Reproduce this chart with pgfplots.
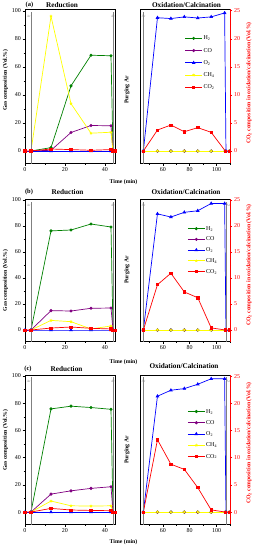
\documentclass[border=0pt]{standalone}
\usepackage{fontspec}
\setmainfont{Liberation Serif}
\usepackage{pgfplots}
\pgfplotsset{compat=1.18}

\definecolor{cH}{RGB}{0,128,0}
\definecolor{cCO}{RGB}{128,0,128}
\definecolor{cO}{RGB}{0,0,255}
\definecolor{cCH}{RGB}{255,255,0}
\definecolor{cCOt}{RGB}{255,0,0}

\pgfplotsset{
 base/.style={scale only axis, width=180pt, tick align=outside,
   axis line style={line width=1.2pt},
   tick style={line width=1pt, black},
   major tick length=4.5pt, minor tick length=2.5pt,
   /pgf/number format/assume math mode=true,
   tick label style={font=\fontsize{12}{14}\selectfont},
   clip=false},
 lax/.style={base, xmin=0, xmax=45, xtick={0,20,40}, minor xtick={10,30},
   ytick={0,20,...,100}, minor ytick={10,30,...,90},
   xtick pos=left, ytick pos=left},
 rax/.style={base, xmin=43, xmax=110, xtick={60,80,100}, minor xtick={50,70,90,110},
   ytick={0,5,...,25}, minor ytick={2.5,7.5,...,22.5},
   xtick pos=left, ytick pos=right, yticklabel pos=right,
   y tick style={red, line width=1pt}, yticklabel style={red},
   legend cell align=left,
   legend image code/.code={\draw[mark repeat=2,mark phase=2,##1] plot coordinates {(0pt,0pt) (17pt,0pt) (34pt,0pt)};}},
 sH/.style={cH, line width=1.4pt, mark=*, mark size=2.4pt},
 sCO/.style={cCO, line width=1.4pt, mark=*, mark size=2.4pt},
 sO/.style={cO, line width=1.4pt, mark=triangle*, mark size=2.9pt},
 sCH/.style={cCH, line width=1.4pt, mark=star, mark size=2.9pt},
 sCOt/.style={cCOt, line width=1.4pt, mark=square*, mark size=2.3pt},
}
\newcommand{\arline}[2]{% x position, anchor
 \draw[gray, densely dotted, line width=0.8pt] ({axis cs:#1,0}|-{rel axis cs:0,0}) -- ({axis cs:#1,0}|-{rel axis cs:0,0.985});
 \node[gray, font=\fontsize{7}{8}\selectfont, anchor=#2, inner sep=0.5pt] at ({axis cs:#1,0}|-{rel axis cs:0,0.955}) {Ar};}
\newcommand{\redspine}{\draw[red, line width=1.2pt] (rel axis cs:1,0) -- (rel axis cs:1,1);}
\newcommand{\lab}{\bfseries\fontsize{11.5}{13}\selectfont}
\newcommand{\plab}{\bfseries\fontsize{13}{15}\selectfont}
\newcommand{\ttl}{\bfseries\fontsize{14.5}{16}\selectfont}
\newcommand{\lgd}{\fontsize{12}{14}\selectfont}

\begin{document}
\begin{tikzpicture}
\useasboundingbox (0pt,0pt) rectangle (510pt,-1100pt);

% ================= Row (a) =================
\begin{axis}[lax, at={(50pt,-326.6pt)}, anchor=south west, height=308pt, ymin=-8.8, ymax=101.2]
\addplot[sH] coordinates {(3,0)(13,2.4)(23,46.5)(33,68.4)(43,68)(44,0)};
\addplot[sCO] coordinates {(3,0)(13,0.5)(23,13.2)(33,18.2)(43,18)(44,0)};
\addplot[sO] coordinates {(0,0)(3,0)(13,0)(23,0)(33,0)(43,0)(44,0)};
\addplot[sCH] coordinates {(3,0)(13,96.2)(23,33.8)(33,12.7)(43,13.4)(44,0)};
\addplot[sCOt] coordinates {(0,0)(3,0)(13,1.4)(23,1)(33,0.5)(43,1)(44,0)(45,0)};
\arline{3}{east}
\arline{44}{center}
\end{axis}
\begin{axis}[rax, at={(280pt,-326.6pt)}, anchor=south west, height=308pt, ymin=-2.19, ymax=25.25,
  legend style={at={(0.48,0.84)}, anchor=north west, draw=none, fill=none, font=\lgd, row sep=11pt}]
\addplot[sH] coordinates {(45.5,0)(56,0)(66,0)(76,0)(86,0)(96,0)(106.5,0)(109.5,0)};
\addplot[sCO] coordinates {(45.5,0)(56,0)(66,0)(76,0)(86,0)(96,0)(106.5,0)(109.5,0)};
\addplot[sO] coordinates {(45.5,0)(56,23.75)(66,23.6)(76,23.9)(86,23.7)(96,23.9)(106,24.6)(107,0)};
\addplot[sCH] coordinates {(45.5,0)(56,0)(66,0)(76,0)(86,0)(96,0)(106.5,0)(109.5,0)};
\addplot[sCOt] coordinates {(45.5,0)(56,3.74)(66,4.63)(76,3.44)(86,4.16)(96,3.33)(106.5,0)(109.5,0)};
\legend{H\textsubscript{2},CO,O\textsubscript{2},CH\textsubscript{4},CO\textsubscript{2}}
\arline{45.5}{center}
\redspine
\end{axis}
\node[font=\plab] at (59pt,-10pt) {(a)};
\node[font=\ttl] at (124pt,-10pt) {Reduction};
\node[font=\ttl] at (373pt,-10pt) {Oxidation/Calcination};
\node[font=\lab, rotate=90] at (11pt,-160pt) {Gas composition (Vol.\%)};
\node[font=\lab, rotate=90] at (254pt,-180pt) {Purging Ar};
\node[font=\lab, rotate=90, red] at (498pt,-166pt) {CO\textsubscript{2} composition in oxidation/calcination (Vol.\%)};
\node[font=\lab] at (247pt,-364pt) {Time (min)};

% ================= Row (b) =================
\begin{axis}[lax, at={(50pt,-683.4pt)}, anchor=south west, height=284.8pt, ymin=-9, ymax=100.5]
\addplot[sH] coordinates {(3,0)(13,76.2)(23,76.9)(33,81.5)(43,79.2)(44,0)};
\addplot[sCO] coordinates {(3,0)(13,14.9)(23,14.6)(33,16.7)(43,16.9)(44,0)};
\addplot[sO] coordinates {(0,0)(3,0)(13,0)(23,0)(33,0)(43,0)(44,0)};
\addplot[sCH] coordinates {(3,0)(13,7.4)(23,6.4)(33,0.8)(43,3.1)(44,0)};
\addplot[sCOt] coordinates {(0,0)(3,0)(13,1.5)(23,2.3)(33,1.3)(43,0.8)(44,0)(45,0)};
\arline{3}{east}
\arline{44}{center}
\end{axis}
\begin{axis}[rax, at={(280pt,-683.4pt)}, anchor=south west, height=284.8pt, ymin=-2.25, ymax=25.1,
  legend style={at={(0.51,0.825)}, anchor=north west, draw=none, fill=none, font=\lgd, row sep=8pt}]
\addplot[sH] coordinates {(45.5,0)(56,0)(66,0)(76,0)(86,0)(96,0)(106.5,0)(109.5,0)};
\addplot[sCO] coordinates {(45.5,0)(56,0)(66,0)(76,0)(86,0)(96,0)(106.5,0)(109.5,0)};
\addplot[sO] coordinates {(45.5,0)(56,22.3)(66,21.7)(76,22.6)(86,22.9)(96,24.3)(106,24.3)(107,0)};
\addplot[sCH] coordinates {(45.5,0)(56,0)(66,0)(76,0)(86,0)(96,0)(106.5,0)(109.5,0)};
\addplot[sCOt] coordinates {(45.5,0)(56,8.7)(66,10.9)(76,7.3)(86,6.2)(96,0.4)(106.5,0)(109.5,0)};
\legend{H\textsubscript{2},CO,O\textsubscript{2},CH\textsubscript{4},CO\textsubscript{2}}
\arline{45.5}{center}
\arline{107}{west}
\redspine
\end{axis}
\node[font=\plab] at (58pt,-384pt) {(b)};
\node[font=\ttl] at (135pt,-385pt) {Reduction};
\node[font=\ttl] at (372pt,-385pt) {Oxidation/Calcination};
\node[font=\lab, rotate=90] at (11pt,-561pt) {Gas composition (Vol.\%)};
\node[font=\lab, rotate=90] at (254pt,-540pt) {Purging Ar};
\node[font=\lab, rotate=90, red] at (498pt,-530pt) {CO\textsubscript{2} composition in oxidation/calcination (Vol.\%)};
\node[font=\lab] at (247pt,-725pt) {Time (min)};

% ================= Row (c) =================
\begin{axis}[lax, at={(50pt,-1048.6pt)}, anchor=south west, height=298.6pt, ymin=-9, ymax=100.7]
\addplot[sH] coordinates {(3,0)(13,75.8)(23,77.8)(33,76.8)(43,75.5)(44,0)};
\addplot[sCO] coordinates {(3,0)(13,13.2)(23,15.6)(33,17.4)(43,18.6)(44,0)};
\addplot[sO] coordinates {(0,0)(3,0)(13,0)(23,0)(33,0)(43,0)(44,0)};
\addplot[sCH] coordinates {(3,0)(13,8.1)(23,4.6)(33,4.4)(43,4.6)(44,0)};
\addplot[sCOt] coordinates {(0,0)(3,0)(13,2.7)(23,1.5)(33,1.2)(43,1)(44,0)(45,0)};
\arline{3}{east}
\arline{44}{center}
\end{axis}
\begin{axis}[rax, at={(280pt,-1048.6pt)}, anchor=south west, height=298.6pt, ymin=-2.25, ymax=25.2,
  legend style={at={(0.51,0.785)}, anchor=north west, draw=none, fill=none, font=\lgd, row sep=9pt}]
\addplot[sH] coordinates {(45.5,0)(56,0)(66,0)(76,0)(86,0)(96,0)(106.5,0)(109.5,0)};
\addplot[sCO] coordinates {(45.5,0)(56,0)(66,0)(76,0)(86,0)(96,0)(106.5,0)(109.5,0)};
\addplot[sO] coordinates {(45.5,0)(56,21.3)(66,22.4)(76,22.7)(86,23.5)(96,24.5)(106,24.5)(107,0)};
\addplot[sCH] coordinates {(45.5,0)(56,0)(66,0)(76,0)(86,0)(96,0)(106.5,0)(109.5,0)};
\addplot[sCOt] coordinates {(45.5,0)(56,13.3)(66,8.8)(76,7.85)(86,4.5)(96,0.4)(106.5,0)(109.5,0)};
\legend{H\textsubscript{2},CO,O\textsubscript{2},CH\textsubscript{4},CO\textsubscript{2}}
\arline{45.5}{center}
\arline{107}{west}
\redspine
\end{axis}
\node[font=\plab] at (56pt,-738pt) {(c)};
\node[font=\ttl] at (133pt,-738pt) {Reduction};
\node[font=\ttl] at (368pt,-733pt) {Oxidation/Calcination};
\node[font=\lab, rotate=90] at (11pt,-880pt) {Gas composition (Vol.\%)};
\node[font=\lab, rotate=90] at (254pt,-900pt) {Purging Ar};
\node[font=\lab, rotate=90, red] at (498pt,-886pt) {CO\textsubscript{2} composition in oxidation/calcination (Vol.\%)};
\node[font=\lab] at (247pt,-1085pt) {Time (min)};
\end{tikzpicture}
\end{document}
